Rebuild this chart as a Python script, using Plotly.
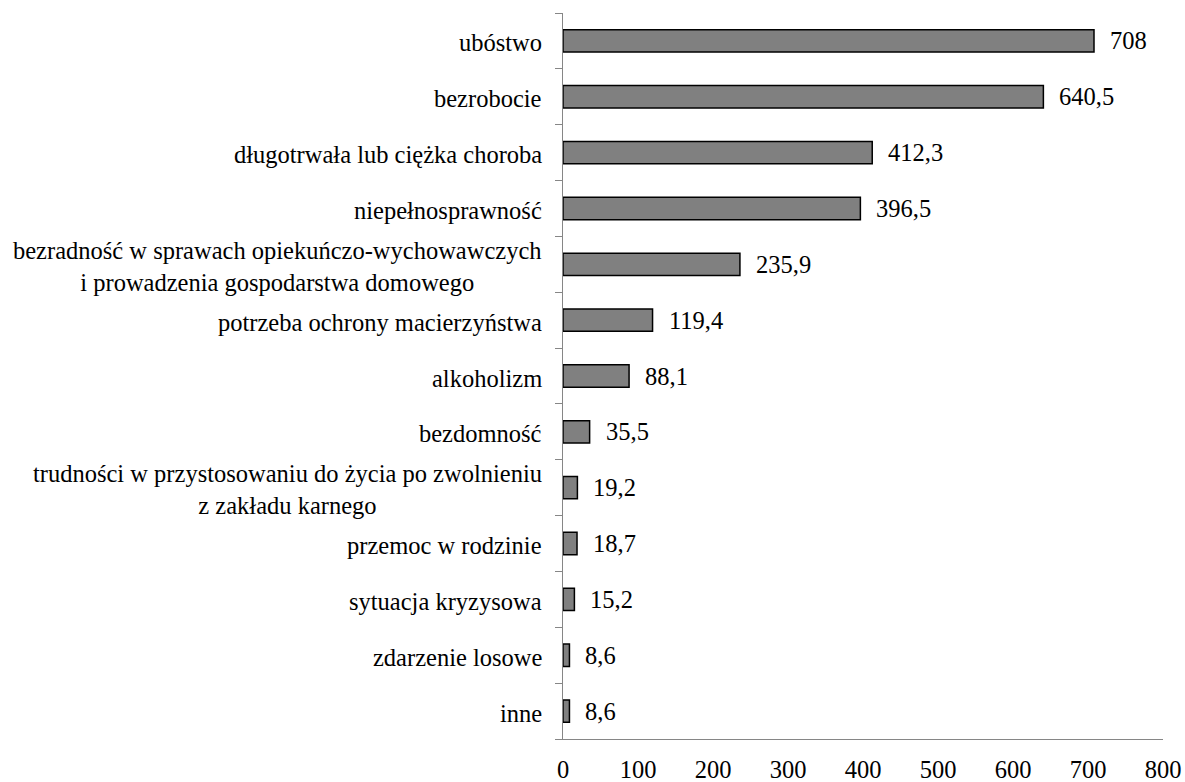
import plotly.graph_objects as go

# Categories (top to bottom) and their values
categories = [
    "ubóstwo",
    "bezrobocie",
    "długotrwała lub ciężka choroba",
    "niepełnosprawność",
    "bezradność w sprawach opiekuńczo-wychowawczych<br>i prowadzenia gospodarstwa domowego",
    "potrzeba ochrony macierzyństwa",
    "alkoholizm",
    "bezdomność",
    "trudności w przystosowaniu do życia po zwolnieniu<br>z zakładu karnego",
    "przemoc w rodzinie",
    "sytuacja kryzysowa",
    "zdarzenie losowe",
    "inne",
]
values = [708, 640.5, 412.3, 396.5, 235.9, 119.4, 88.1, 35.5, 19.2, 18.7, 15.2, 8.6, 8.6]
x_ticks = [0, 100, 200, 300, 400, 500, 600, 700, 800]

FONT = "Liberation Serif"
FSIZE = 24.5
AXIS_GREY = "#868686"


def pl_num(v):
    return f"{v:g}".replace(".", ",")


ids = list(range(len(categories)))

fig = go.Figure(
    go.Bar(
        x=values,
        y=ids,
        orientation="h",
        marker=dict(color="#808080", line=dict(color="#000000", width=1.5)),
        hoverinfo="skip",
    )
)

# value labels to the right of each bar
for i, v in zip(ids, values):
    fig.add_annotation(
        x=v, y=i, xref="x", yref="y", text=pl_num(v),
        showarrow=False, xanchor="left", yanchor="middle", xshift=14,
        font=dict(family=FONT, size=FSIZE, color="#000000"),
    )

# category labels, centred line-by-line, right of the label block at the axis
for i, c in zip(ids, categories):
    fig.add_annotation(
        x=0, y=i, xref="paper", yref="y", text=c,
        showarrow=False, xanchor="right", yanchor="middle", xshift=-19,
        yshift=-2,
        align="center",
        font=dict(family=FONT, size=FSIZE, color="#000000"),
    )

fig.update_layout(
    width=1185,
    height=782,
    margin=dict(l=563, r=22, t=13, b=43, autoexpand=False),
    paper_bgcolor="white",
    plot_bgcolor="white",
    bargap=0.6,
    showlegend=False,
    font=dict(family=FONT, size=FSIZE, color="#000000"),
)

fig.update_xaxes(
    range=[0, 800],
    tickvals=x_ticks,
    ticktext=[str(t) for t in x_ticks],
    showgrid=False,
    zeroline=False,
    showline=True,
    linecolor=AXIS_GREY,
    linewidth=1.3,
    ticks="",
    ticklabelstandoff=8,
    automargin=False,
    tickfont=dict(family=FONT, size=FSIZE, color="#000000"),
    fixedrange=True,
)

fig.update_yaxes(
    type="linear",
    range=[len(categories) - 0.5, -0.5],
    tickvals=[i - 0.5 for i in range(len(categories) + 1)],
    showticklabels=False,
    showgrid=False,
    zeroline=False,
    showline=True,
    linecolor=AXIS_GREY,
    linewidth=1.3,
    ticks="outside",
    ticklen=7,
    tickcolor=AXIS_GREY,
    tickwidth=1.3,
    automargin=False,
    fixedrange=True,
)

fig.write_html("out.html")
